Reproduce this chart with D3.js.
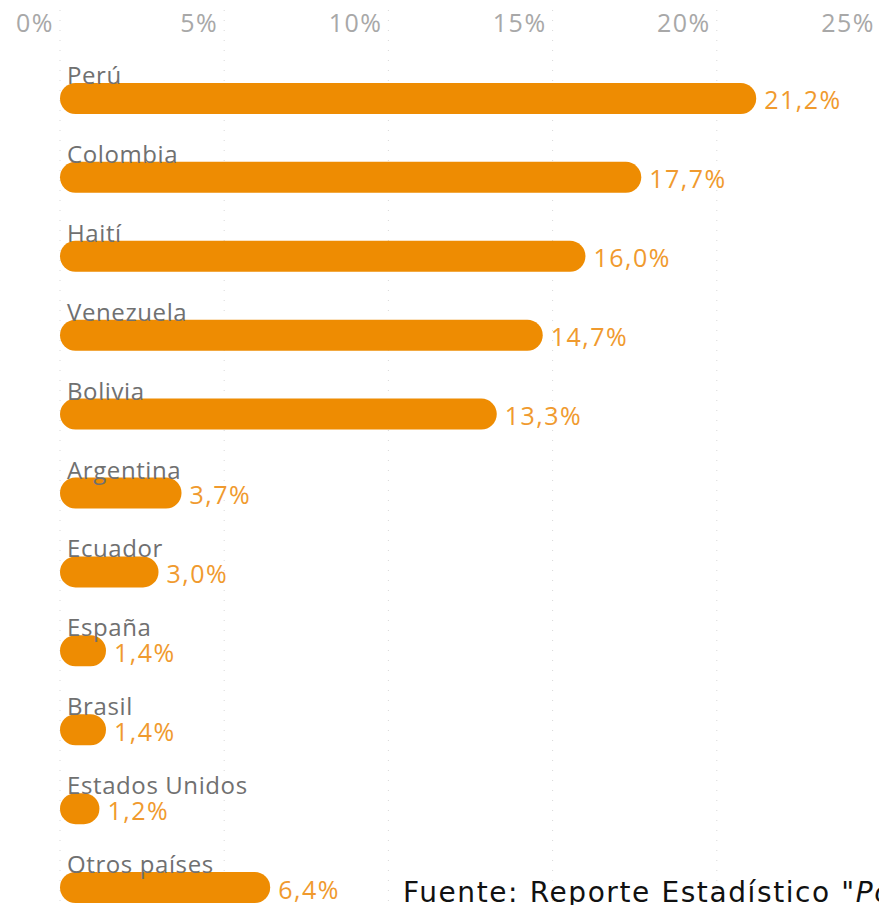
<!DOCTYPE html>
<html>
<head>
<meta charset="utf-8">
<script src="https://cdn.jsdelivr.net/npm/d3@7"></script>
<style>
  body { margin: 0; background: #fff; overflow: hidden; }
  svg { display: block; }
</style>
</head>
<body>
<div id="chart"></div>
<script>
// datos: porcentaje de población migrante por país de origen
var countries = ['Perú', 'Colombia', 'Haití', 'Venezuela', 'Bolivia', 'Argentina', 'Ecuador', 'España', 'Brasil', 'Estados Unidos', 'Otros países']
var shares = [21.2, 17.7, 16.0, 14.7, 13.3, 3.7, 3.0, 1.4, 1.4, 1.2, 6.4]
var ticks = [0, 5, 10, 15, 20, 25]

var width = 879, height = 905
var barH = 31

var svg = d3.select('#chart').append('svg')
  .attr('width', width)
  .attr('height', height)

var x = d3.scaleLinear().domain([0, 25]).range([60, 881])

var y = d3.scaleBand()
  .domain(countries)
  .range([59, 927])
  .paddingInner(0)

var fmt = function (d) { return d.toFixed(1).replace('.', ',') + '%' }

// grid lines (dotted)
svg.selectAll('line.grid')
  .data(ticks)
  .enter()
  .append('line')
  .attr('class', 'grid')
  .attr('x1', function (d) { return x(d) })
  .attr('x2', function (d) { return x(d) })
  .attr('y1', 10)
  .attr('y2', height)
  .style('stroke', '#d9d9d9')
  .style('stroke-width', 1)
  .style('stroke-dasharray', '1,9')

// tick labels on top
svg.selectAll('text.tick')
  .data(ticks)
  .enter()
  .append('text')
  .attr('class', 'tick')
  .attr('x', function (d) { return x(d) - 6 })
  .attr('y', 32)
  .attr('text-anchor', 'end')
  .style('font-family', 'Open Sans')
  .style('font-size', '25px')
  .style('letter-spacing', '1.5px')
  .style('fill', '#a8a8a8')
  .text(function (d) { return d + '%' })

var rows = svg.selectAll('g.row')
  .data(countries)
  .enter()
  .append('g')
  .attr('class', 'row')
  .attr('transform', function (d) { return 'translate(0,' + (y(d) + y.bandwidth() / 2) + ')' })

rows.append('rect')
  .attr('x', x(0))
  .attr('y', -barH / 2)
  .attr('width', function (d, i) { return x(shares[i]) - x(0) })
  .attr('height', barH)
  .attr('rx', barH / 2)
  .attr('ry', barH / 2)
  .style('fill', '#ee8c02')

rows.append('text')
  .attr('x', 67)
  .attr('y', -barH / 2 + 1)
  .style('font-family', 'Open Sans')
  .style('font-size', '24px')
  .style('letter-spacing', '0.6px')
  .style('fill', '#707070')
  .text(function (d) { return d })

rows.append('text')
  .attr('x', function (d, i) { return x(shares[i]) + 8 })
  .attr('y', 11)
  .style('font-family', 'Open Sans')
  .style('font-size', '25px')
  .style('letter-spacing', '1.5px')
  .style('fill', '#f09a2e')
  .text(function (d, i) { return fmt(shares[i]) })

// fuente
var src = svg.append('text')
  .attr('x', 403)
  .attr('y', 902)
  .style('font-family', 'DejaVu Sans')
  .style('font-size', '28px')
  .style('letter-spacing', '1.6px')
  .style('fill', '#111')
src.append('tspan').text('Fuente: Reporte Estadístico "')
src.append('tspan').style('font-style', 'italic').text('Población migrante en Chile"')
</script>
</body>
</html>
